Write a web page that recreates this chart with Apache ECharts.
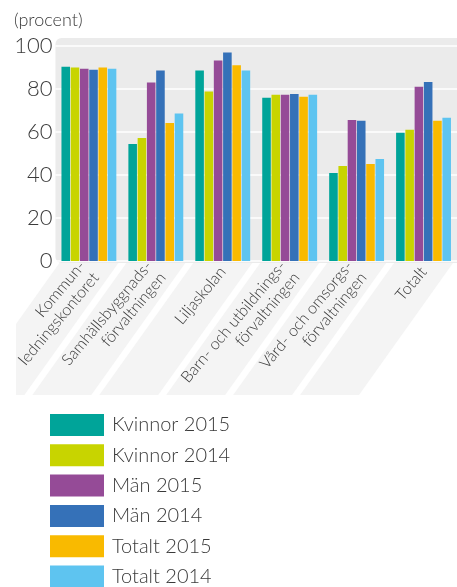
<!DOCTYPE html>
<html>
<head>
<meta charset="utf-8">
<script src="https://cdn.jsdelivr.net/npm/echarts@6/dist/echarts.min.js"></script>
<style>
html,body{margin:0;padding:0;background:#fff;}
#c{width:457px;height:587px;}
</style>
</head>
<body>
<div id="c"></div>
<script>
const categories = ['Kommun-\nledningskontoret', 'Samhällsbyggnads-\nförvaltningen', 'Liljaskolan', 'Barn- och utbildnings-\nförvaltningen', 'Vård- och omsorgs-\nförvaltningen', 'Totalt'];
const seriesNames = ['Kvinnor 2015', 'Kvinnor 2014', 'Män 2015', 'Män 2014', 'Totalt 2015', 'Totalt 2014'];
const kvinnor2015 = [90.4, 54.4, 88.6, 75.9, 40.9, 59.6];
const kvinnor2014 = [90.0, 57.2, 78.8, 77.3, 44.2, 61.0];
const man2015     = [89.4, 83.0, 93.3, 77.3, 65.6, 81.0];
const man2014     = [88.9, 88.6, 97.0, 77.7, 65.2, 83.3];
const totalt2015  = [90.0, 64.2, 91.0, 76.4, 45.1, 65.2];
const totalt2014  = [89.4, 68.6, 88.6, 77.3, 47.4, 66.6];
const yTicks = [0, 20, 40, 60, 80, 100];

const colors = ['#00a499', '#c8d400', '#954b97', '#3571b8', '#f9ba00', '#5ec4f0'];
const FONT = 'Lato, "Open Sans", sans-serif';
const TXT = '#3a3a3a';

const chart = echarts.init(document.getElementById('c'), null, {renderer: 'canvas'});
const allData = [kvinnor2015, kvinnor2014, man2015, man2014, totalt2015, totalt2014];

const option = {
  animation: false,
  backgroundColor: '#ffffff',
  color: colors,
  title: {
    text: '(procent)', left: 9, top: 6,
    textStyle: {fontFamily: FONT, fontWeight: 300, fontSize: 18, color: TXT}
  },
  grid: {left: 51, top: 46, width: 410, height: 215, containLabel: false},
  legend: {
    orient: 'vertical', left: 50, top: 414, height: 200, padding: 0,
    itemWidth: 54, itemHeight: 22, itemGap: 8.3,
    icon: 'rect',
    textStyle: {fontFamily: FONT, fontWeight: 300, fontSize: 20, color: TXT, padding: [0, 0, 0, 3]},
    data: seriesNames
  },
  xAxis: {
    type: 'category', data: categories,
    axisLine: {show: false}, axisTick: {show: false},
    axisLabel: {
      rotate: 50, margin: 8, interval: 0,
      fontFamily: FONT, fontWeight: 300, fontSize: 16, lineHeight: 18, color: TXT
    }
  },
  yAxis: {
    type: 'value', min: yTicks[0], max: yTicks[yTicks.length - 1], interval: 20,
    axisLine: {show: false}, axisTick: {show: false},
    axisLabel: {margin: 3, fontFamily: FONT, fontWeight: 300, fontSize: 22, color: TXT},
    splitLine: {lineStyle: {color: '#ffffff', width: 1.5}}
  },
  series: seriesNames.map((n, i) => ({
    name: n, type: 'bar', data: allData[i],
    barGap: '8%', barCategoryGap: '18%',
    itemStyle: {color: colors[i]}
  }))
};
chart.setOption(option);

// decorative wall & floor derived from axis positions
const xc = i => chart.convertToPixel({xAxisIndex: 0}, i);
const y0 = chart.convertToPixel({yAxisIndex: 0}, 0);
const yTop = chart.convertToPixel({yAxisIndex: 0}, 100);
const half = (xc(1) - xc(0)) / 2;
const bounds = [];
for (let k = 0; k <= categories.length; k++) bounds.push(xc(0) - half + 2 * half * k);

const elements = [];
elements.push({
  type: 'rect', z: -10,
  shape: {x: bounds[0], y: yTop - 8, width: bounds[bounds.length - 1] - bounds[0] + 20, height: y0 - yTop + 10, r: [6, 0, 0, 6]},
  style: {fill: '#ebebeb'}
});
const fTop = y0 + 2, fBot = y0 + 134, shift = -94, clipX = 16;
for (let k = 0; k < categories.length; k++) {
  const tl = bounds[k] + 4, tr = bounds[k + 1] - 4;
  const bl = tl + shift, br = tr + shift;
  let pts;
  if (bl < clipX) {
    const t = (tl - clipX) / (tl - bl);
    const yc = fTop + t * (fBot - fTop);
    pts = [[tl, fTop], [clipX, yc], [clipX, fBot], [Math.max(br, clipX), fBot], [tr, fTop]];
  } else {
    pts = [[tl, fTop], [bl, fBot], [br, fBot], [tr, fTop]];
  }
  elements.push({type: 'polygon', z: -10, shape: {points: pts}, style: {fill: '#f4f4f4'}});
}
chart.setOption({graphic: {elements: elements}});
</script>
</body>
</html>
